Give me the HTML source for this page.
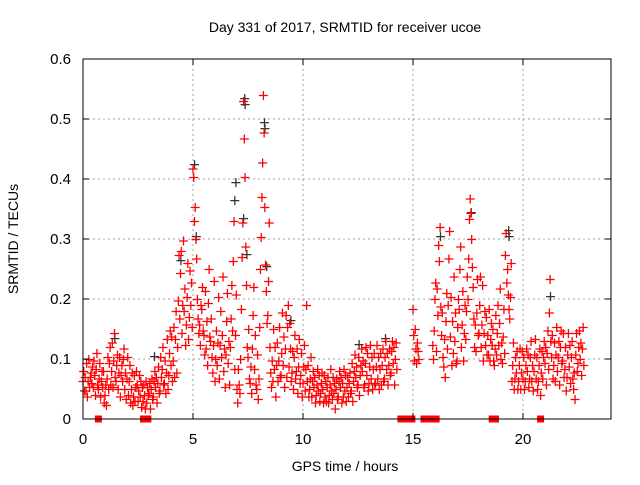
<!DOCTYPE html>
<html><head><meta charset="utf-8"><style>
html,body{margin:0;padding:0;background:#fff;}
svg text{font-family:"Liberation Sans",sans-serif;fill:#000;}
</style></head><body>
<svg id="chart" width="640" height="480" viewBox="0 0 640 480" xmlns="http://www.w3.org/2000/svg">
<rect x="0" y="0" width="640" height="480" fill="#fff"/>
<g id="grid"></g>
<g id="black"></g>
<g id="red"></g>
<g id="axes"></g>
<text x="345" y="32" font-size="14" text-anchor="middle">Day 331 of 2017, SRMTID for receiver ucoe</text>
<text x="345" y="471" font-size="14" text-anchor="middle">GPS time / hours</text>
<text x="18" y="239" font-size="14" text-anchor="middle" transform="rotate(-90 18 239)">SRMTID / TECUs</text>
</svg>
<script>
const xTicks=[0,5,10,15,20];
const yTicks=[0,0.1,0.2,0.3,0.4,0.5,0.6];
const yTickLabels=["0","0.1","0.2","0.3","0.4","0.5","0.6"];
const blocks=[[0,14.2],[15.0,15.2],[15.9,22.7]];
const redVals=[
[.06,.08,.05],[.07,.05,.09],[.04,.06,.10],[.05,.07,.08],[.06,.09,.05],[.10,.07,.04],[.08,.11,.06],[.05,.07,.09],[.04,.06,.08],[.05,.08,.03],
[.04,.06,.02],[.07,.10,.05],[.09,.12,.06],[.08,.13,.05],[.10,.14,.07],[.06,.09,.11],[.05,.08,.10],[.04,.07,.09],[.06,.10,.12],[.05,.08,.03],
[.07,.10,.04],[.06,.09,.03],[.05,.08,.02],[.04,.07,.03],[.05,.08,.06],[.03,.05,.07],[.04,.06,.02],[.05,.03,.06],[.04,.02,.06],[.03,.05,.04],
[.04,.06,.02],[.05,.07,.03],[.04,.06,.08],[.05,.07,.03],[.06,.09,.04],[.05,.10,.07],[.08,.12,.06],[.06,.10,.04],[.08,.13,.05],[.07,.11,.15],
[.09,.14,.06],[.10,.15,.07],[.13,.18,.08],[.12,.20,.27],[.17,.24,.28],[.14,.19,.30],[.18,.22,.12],[.16,.20,.26],[.13,.17,.25],[.19,.23,.15],
[.42,.40,.33],[.35,.30,.27],[.20,.17,.14],[.16,.12,.19],[.18,.22,.15],[.14,.11,.21],[.12,.16,.09],[.19,.25,.14],[.13,.17,.10],[.08,.12,.23],
[.06,.10,.15],[.09,.13,.20],[.07,.12,.18],[.10,.14,.24],[.08,.12,.05],[.11,.16,.21],[.09,.13,.06],[.12,.17,.22],[.15,.26,.33],[.08,.14,.21],
[.05,.03,.08],[.06,.04,.10],[.18,.27,.33],[.53,.47,.40],[.29,.22,.12],[.10,.15,.07],[.06,.09,.04],[.12,.17,.22],[.08,.14,.06],[.05,.11,.03],
[.07,.15,.25],[.30,.37,.43],[.54,.48,.35],[.26,.21,.16],[.17,.23,.33],[.12,.08,.05],[.10,.06,.15],[.08,.12,.04],[.09,.13,.06],[.10,.15,.07],
[.07,.11,.18],[.09,.14,.05],[.12,.17,.07],[.15,.19,.09],[.16,.12,.06],[.08,.11,.05],[.10,.14,.07],[.08,.12,.04],[.09,.13,.06],[.07,.11,.04],
[.06,.09,.12],[.05,.08,.19],[.06,.09,.04],[.05,.07,.10],[.04,.06,.08],[.05,.07,.03],[.04,.06,.08],[.05,.07,.03],[.04,.06,.08],[.05,.03,.07],
[.04,.06,.03],[.05,.07,.03],[.04,.06,.08],[.05,.03,.07],[.04,.06,.02],[.05,.07,.03],[.04,.06,.08],[.05,.07,.03],[.06,.04,.08],[.05,.07,.03],
[.05,.07,.04],[.06,.08,.04],[.05,.09,.03],[.06,.08,.11],[.07,.09,.05],[.06,.10,.04],[.07,.09,.12],[.08,.10,.05],[.06,.09,.12],[.07,.11,.05],
[.06,.09,.12],[.07,.10,.05],[.08,.11,.06],[.06,.09,.12],[.07,.10,.05],[.08,.11,.06],[.09,.12,.06],[.07,.10,.13],[.08,.11,.06],[.09,.12,.07],
[.08,.11,.13],[.09,.12,.06],[.10,.13,.08],
[.18,.14,.10],[.15,.12,.09],[.13,.11,.10],
[.12,.10,.15],[.20,.23,.11],[.22,.17,.29],[.26,.32,.19],[.14,.18,.10],[.09,.13,.07],[.16,.21,.12],[.19,.27,.31],[.14,.20,.09],[.16,.11,.24],[.13,.18,.09],
[.10,.15,.20],[.18,.25,.29],[.12,.16,.21],[.10,.14,.19],[.13,.18,.24],[.20,.27,.33],[.37,.34,.30],[.25,.22,.17],[.12,.16,.11],[.18,.23,.14],
[.14,.19,.24],[.12,.16,.22],[.10,.14,.18],[.12,.17,.11],[.14,.11,.18],[.10,.13,.16],[.12,.15,.10],[.09,.12,.17],[.11,.14,.19],[.12,.16,.22],
[.10,.13,.09],[.14,.18,.11],[.27,.31,.23],[.25,.21,.18],[.17,.20,.26],[.06,.09,.13],[.05,.07,.10],[.08,.11,.05],[.06,.09,.12],[.05,.08,.11],
[.07,.10,.05],[.06,.09,.12],[.08,.11,.05],[.07,.10,.13],[.06,.09,.05],[.08,.11,.13],[.07,.10,.05],[.06,.09,.12],[.04,.08,.11],[.07,.10,.13],
[.09,.12,.06],[.11,.15,.08],[.18,.23,.13],[.10,.14,.07],[.09,.13,.06],[.11,.15,.08],[.10,.13,.06],[.12,.15,.09],[.10,.14,.07],[.08,.12,.05],
[.07,.11,.14],[.09,.12,.06],[.10,.13,.07],[.05,.08,.03],[.11,.14,.08],[.09,.12,.15],[.10,.13,.07],[.12,.15,.09]
];
const zeroHours=[0.7,2.75,2.95,14.45,14.6,14.75,14.95,15.5,15.65,15.95,16.05,18.6,18.75,20.8];
const blackT=[7.3,7.32,8.2,8.22,6.9,5.02,7.25,7.4,19.3,19.32,8.3,6.85,4.4,5.1,17.6,16.2,9.4,12.5,13.7,3.2,1.4,21.2];
const blackV=[0.53,0.52,0.49,0.48,0.39,0.42,0.33,0.27,0.31,0.30,0.25,0.36,0.26,0.30,0.34,0.30,0.16,0.12,0.13,0.10,0.13,0.20];

const L=83,R=611,T=59,B=419;
const xs=h=>L+(h/24)*(R-L);
const ys=v=>B-(v/0.6)*(B-T);
const NS="http://www.w3.org/2000/svg";
function mk(tag,attrs,parent){const e=document.createElementNS(NS,tag);for(const k in attrs)e.setAttribute(k,attrs[k]);parent.appendChild(e);return e;}
const grid=document.getElementById('grid'),axes=document.getElementById('axes');
xTicks.forEach(t=>{
  if(t>0){const g=mk('line',{x1:xs(t),x2:xs(t),y1:T,y2:B,stroke:'#a0a0a0','stroke-dasharray':'2,3'},grid);
  
  }
  const tx=mk('text',{x:xs(t),y:B+25,'font-size':15,'text-anchor':'middle'},axes);
  tx.textContent=t;
  
  
  mk('line',{x1:xs(t),x2:xs(t),y1:B,y2:B-6,stroke:'#000'},axes);
  mk('line',{x1:xs(t),x2:xs(t),y1:T,y2:T+6,stroke:'#000'},axes);
});
yTicks.forEach((v,i)=>{
  if(v>0&&v<0.6){const g=mk('line',{x1:L,x2:R,y1:ys(v),y2:ys(v),stroke:'#a0a0a0','stroke-dasharray':'2,3'},grid);
  
  }
  const tx=mk('text',{x:L-12,y:ys(v)+5,'font-size':15,'text-anchor':'end'},axes);
  tx.textContent=yTickLabels[i];
  
  
  mk('line',{x1:L,x2:L+6,y1:ys(v),y2:ys(v),stroke:'#000'},axes);
  mk('line',{x1:R,x2:R-6,y1:ys(v),y2:ys(v),stroke:'#000'},axes);
});
const fr=mk('rect',{x:L,y:T,width:R-L,height:B-T,fill:'none',stroke:'#000','stroke-width':1},axes);



function plus(g,h,v,col,dy){
  const x=xs(h),y=ys(v)+(dy||0);
  mk('path',{d:`M${x-4.5} ${y}H${x+4.5}M${x} ${y-4.5}V${y+4.5}`,stroke:col,'stroke-width':1.3,fill:'none'},g);
}
const gb=document.getElementById('black'),gr=document.getElementById('red');
blackT.forEach((h,i)=>plus(gb,h+0.05,blackV[i]+0.004,'#333',0));
const jitterY=[-1.5,0.5,2];
let idx=0;
blocks.forEach(([a,b])=>{
  const n=Math.round((b-a)*10)+1;
  for(let k=0;k<n;k++){
    const h=a+k*0.1;
    const vals=redVals[idx++]||[];
    vals.forEach((v,j)=>plus(gr,h+j*0.033,v,'#ff0000',jitterY[(j+k)%3]));
  }
});
zeroHours.forEach(h=>{
  const r=mk('rect',{x:xs(h)-3.5,y:B-3.5,width:7,height:7,fill:'#ff0000'},gr);
  
  
});
</script>
</body></html>
